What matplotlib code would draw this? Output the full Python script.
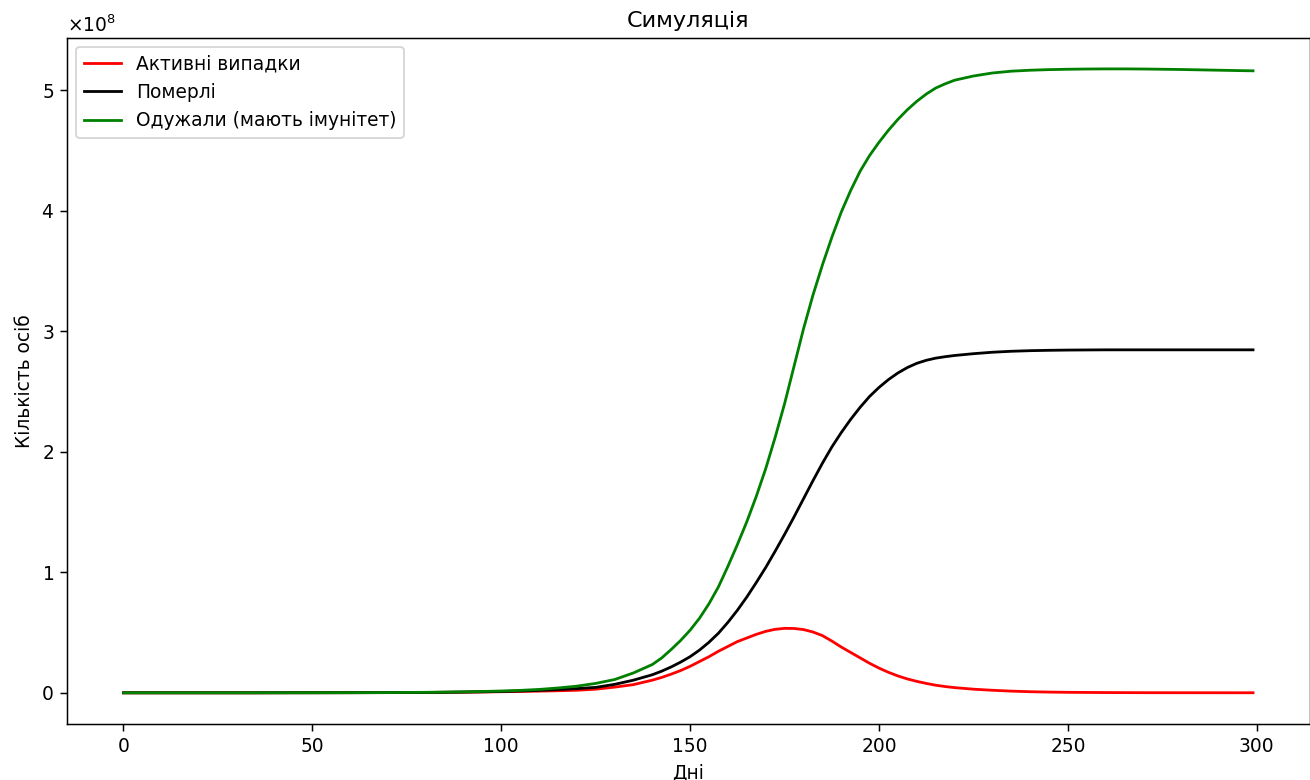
import matplotlib
matplotlib.use("Agg")
import matplotlib.pyplot as plt
import numpy as np

# sample days: every 5 days, every 2.5 days through the steep part, and the last day
days = (list(range(0, 145, 5))
        + [142.5 + 2.5 * i for i in range(31)]
        + list(range(220, 300, 5))
        + [299])

# values in units of 1e8 persons
active = [0, 0, 0, 0, 0, 0, 0, 0, 0.0005, 0.0006,
          0.0008, 0.001, 0.0012, 0.0015, 0.002, 0.0025, 0.003, 0.004, 0.005, 0.007,
          0.009, 0.011, 0.014, 0.017, 0.021, 0.03, 0.047, 0.068, 0.105,
          # 142.5 .. 217.5
          0.128, 0.155, 0.185, 0.22, 0.26, 0.30, 0.345, 0.385, 0.425, 0.455,
          0.485, 0.51, 0.527, 0.535, 0.534, 0.525, 0.505, 0.475, 0.43, 0.38,
          0.335, 0.29, 0.245, 0.205, 0.17, 0.14, 0.115, 0.095, 0.078, 0.063,
          0.052,
          # 220 .. 299
          0.043, 0.03, 0.021, 0.014, 0.009, 0.006, 0.004, 0.003, 0.002, 0.0015,
          0.001, 0.0008, 0.0006, 0.0005, 0.0004, 0.0003, 0.0003]

deaths = [0, 0, 0, 0, 0, 0, 0, 0, 0.0002, 0.0003,
          0.0004, 0.0006, 0.0008, 0.001, 0.0015, 0.002, 0.003, 0.004, 0.006, 0.008,
          0.011, 0.015, 0.02, 0.027, 0.035, 0.045, 0.07, 0.105, 0.15,
          # 142.5 .. 217.5
          0.18, 0.215, 0.255, 0.30, 0.355, 0.42, 0.495, 0.585, 0.685, 0.795,
          0.915, 1.04, 1.175, 1.315, 1.46, 1.61, 1.76, 1.905, 2.04, 2.16,
          2.27, 2.37, 2.46, 2.535, 2.60, 2.655, 2.70, 2.735, 2.76, 2.778,
          2.79,
          # 220 .. 299
          2.80, 2.815, 2.827, 2.835, 2.84, 2.843, 2.845, 2.846, 2.847, 2.847,
          2.847, 2.847, 2.847, 2.847, 2.847, 2.847, 2.847]

recovered = [0, 0, 0, 0, 0, 0, 0, 0, 0.0003, 0.0004,
             0.0006, 0.0008, 0.001, 0.0015, 0.002, 0.003, 0.004, 0.006, 0.008, 0.011,
             0.015, 0.02, 0.028, 0.04, 0.055, 0.078, 0.11, 0.165, 0.235,
             # 142.5 .. 217.5
             0.29, 0.36, 0.435, 0.52, 0.62, 0.74, 0.88, 1.05, 1.23, 1.42,
             1.63, 1.86, 2.12, 2.40, 2.71, 3.02, 3.30, 3.55, 3.78, 3.99,
             4.17, 4.33, 4.46, 4.57, 4.67, 4.76, 4.84, 4.91, 4.97, 5.02,
             5.055,
             # 220 .. 299
             5.085, 5.12, 5.145, 5.16, 5.168, 5.173, 5.176, 5.178, 5.179, 5.179,
             5.178, 5.176, 5.174, 5.171, 5.168, 5.165, 5.163]

scale = 1e8
dpi = 134

fig = plt.figure(figsize=(1310 / dpi, 780 / dpi), dpi=dpi)
ax = fig.add_axes([67 / 1310, 56 / 780, 1242.5 / 1310, 686.3 / 780])

ax.plot(days, np.array(active) * scale, color="red", label="Активні випадки")
ax.plot(days, np.array(deaths) * scale, color="black", label="Померлі")
ax.plot(days, np.array(recovered) * scale, color="green", label="Одужали (мають імунітет)")

ax.ticklabel_format(axis="y", style="sci", scilimits=(0, 0), useMathText=True)
ax.set_title("Симуляція")
ax.set_xlabel("Дні")
ax.set_ylabel("Кількість осіб")
ax.legend(loc="upper left")

fig.savefig("out.png", dpi=dpi)
